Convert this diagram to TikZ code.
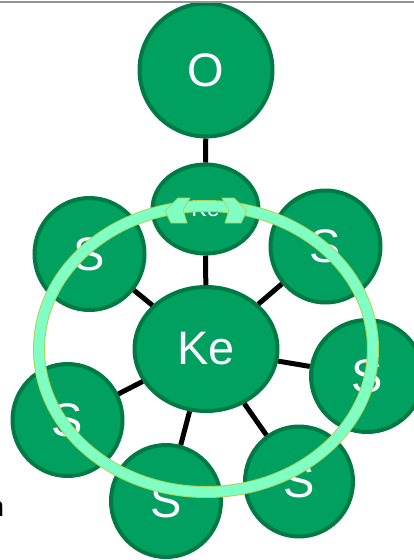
\documentclass[tikz,border=0pt]{standalone}
\usepackage{fontspec}
\setmainfont{Liberation Sans}
\usetikzlibrary{shapes.geometric}
\definecolor{atomfill}{RGB}{0,160,96}
\definecolor{atomedge}{RGB}{0,122,69}
\definecolor{ringmint}{RGB}{128,255,196}
\definecolor{ringrim}{RGB}{175,210,90}
\definecolor{topline}{RGB}{150,150,150}
\tikzset{
  atom/.style={ellipse, draw=atomedge, fill=atomfill, line width=4pt, inner sep=0pt,
    text=white, font=\fontsize{47}{50}\selectfont},
  bond/.style={line width=5pt, black},
  ringrimstyle/.style={draw=ringrim, line width=12pt},
  ringbody/.style={draw=ringmint, line width=10pt},
  headstyle/.style={fill=ringmint, draw=ringrim, line width=0.8pt, line join=miter}
}
\begin{document}
\begin{tikzpicture}[x=1pt,y=-1pt]
\useasboundingbox (0,0) rectangle (414,560);
% atoms
\node[atom, minimum width=133pt, minimum height=133pt] (o) at (206,70) {O};
\node[atom, minimum width=106pt, minimum height=89pt, font=\fontsize{23}{25}\selectfont] (kes) at (205.5,209) {Ke};
\node[atom, minimum width=143pt, minimum height=124pt] (keb) at (206,349) {Ke};
\node[atom, minimum width=110pt, minimum height=112pt] (s1) at (89.5,254) {S};
\node[atom, minimum width=110pt, minimum height=112pt] (s2) at (325.5,246.5) {S};
\node[atom, minimum width=112pt, minimum height=112pt] (s3) at (367,376) {S};
\node[atom, minimum width=110pt, minimum height=112pt] (s4) at (67.5,420) {S};
\node[atom, minimum width=110pt, minimum height=112pt] (s5) at (166,501) {S};
\node[atom, minimum width=108pt, minimum height=110pt] (s6) at (299,481.5) {S};
% bonds
\draw[bond] (o) -- (kes);
\draw[bond] (kes) -- (keb);
\foreach \s in {s1,s2,s3,s4,s5,s6} \draw[bond] (keb) -- (\s);
% ring
\coordinate (rc) at (206,349);
\draw[ringrimstyle] (rc) ellipse [x radius=167pt, y radius=143pt];
\draw[ringbody] (rc) ellipse [x radius=167pt, y radius=143pt];
% arrow heads
\filldraw[headstyle] (165,211) -- (178,198) -- (190,198) -- (183,210) -- (187,223) -- (171,223) -- cycle;
\filldraw[headstyle] (247,211) -- (234,198) -- (222,198) -- (229,210) -- (225,223) -- (241,223) -- cycle;
% top rule
\coordinate (tl) at (0,1.5);
\coordinate (tr) at (414,1.5);
\draw[topline, line width=2pt] (tl) -- (tr);
% cut-off letter
\node[anchor=base west, inner sep=0pt, font=\fontsize{28}{30}\selectfont] (nn) at (-11.5,516) {n};
\end{tikzpicture}
\end{document}
